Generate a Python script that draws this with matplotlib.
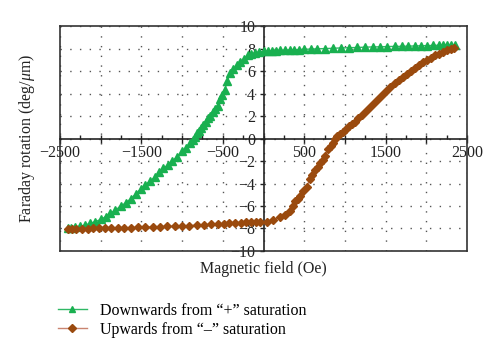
import matplotlib
matplotlib.use("Agg")
import matplotlib.pyplot as plt
from matplotlib.ticker import MultipleLocator, FuncFormatter

plt.rcParams['font.family'] = ['Liberation Serif', 'DejaVu Serif']
plt.rcParams['mathtext.fontset'] = 'custom'
plt.rcParams['mathtext.rm'] = 'Liberation Serif'
plt.rcParams['mathtext.it'] = 'Liberation Serif:italic'

# Downwards from "+" saturation
down_x = [2350, 2300, 2250, 2200, 2150, 2080, 2010, 1940, 1860, 1780, 1700, 1610,
          1520, 1430, 1340, 1250, 1150, 1050, 950, 850, 750, 660, 580, 500, 440,
          380, 320, 260, 200, 150, 100, 50, 0, -50, -100, -150, -190, -240, -290,
          -330, -370, -410, -445, -475, -505, -535, -565, -595, -625, -655, -680,
          -710, -740, -765, -790, -815, -840, -870, -900, -950, -1000, -1060,
          -1120, -1175, -1230, -1280, -1330, -1390, -1450, -1510, -1570, -1630,
          -1690, -1750, -1820, -1880, -1940, -2000, -2070, -2130, -2190, -2250,
          -2310, -2360, -2400]
down_y = [8.35, 8.35, 8.32, 8.3, 8.3, 8.28, 8.27, 8.25, 8.24, 8.22, 8.2, 8.2,
          8.18, 8.16, 8.15, 8.13, 8.1, 8.08, 8.06, 8.03, 8.0, 7.98, 7.96, 7.94, 7.92,
          7.9, 7.88, 7.86, 7.84, 7.82, 7.8, 7.78, 7.75, 7.7, 7.62, 7.52, 7.42, 7.1, 6.8,
          6.5, 6.15, 5.8, 5.1, 4.35, 3.9, 3.55, 2.9, 2.6, 2.35, 2.05, 1.8,
          1.5, 1.2, 0.95, 0.7, 0.45, 0.15, -0.15, -0.4, -0.8, -1.15, -1.6,
          -2.0, -2.35, -2.65, -3.0, -3.4, -3.75, -4.1, -4.5, -4.95, -5.35,
          -5.7, -6.0, -6.35, -6.65, -6.95, -7.2, -7.4, -7.55, -7.7, -7.8,
          -7.9, -7.97, -8.0]

# Upwards from "-" saturation
up_x = [-2400, -2350, -2300, -2230, -2160, -2090, -2020, -1950, -1870, -1790, -1710,
        -1630, -1540, -1450, -1360, -1270, -1180, -1090, -1000, -910, -820, -730,
        -640, -560, -490, -420, -350, -280, -210, -150, -90, -40, 40, 120, 200, 260,
        320, 360, 390, 420, 450, 490, 530, 570, 600, 635, 665, 695, 725, 755, 795,
        825, 850, 880, 905, 940, 975, 1010, 1045, 1085, 1125, 1165, 1210, 1260,
        1310, 1360, 1410, 1460, 1510, 1560, 1610, 1660, 1710, 1760, 1810, 1860,
        1910, 1960, 2010, 2060, 2110, 2160, 2210, 2260, 2300, 2340]
up_y = [-8.05, -8.05, -8.04, -8.03, -8.02, -8.0, -7.99, -7.98, -7.97, -7.95, -7.94,
        -7.92, -7.9, -7.88, -7.86, -7.84, -7.82, -7.8, -7.77, -7.74, -7.71, -7.68,
        -7.64, -7.6, -7.57, -7.54, -7.5, -7.47, -7.44, -7.42, -7.41, -7.4, -7.38,
        -7.24, -7.0, -6.8, -6.45, -6.0, -5.6, -5.35, -5.1, -4.7, -4.3, -3.6, -3.2,
        -2.8, -2.5, -2.2, -1.9, -1.56, -0.96, -0.65, -0.37, -0.05, 0.22, 0.4, 0.55,
        0.85, 1.1, 1.3, 1.5, 1.85, 2.1, 2.45, 2.8, 3.15, 3.5, 3.85, 4.2, 4.55, 4.9,
        5.2, 5.5, 5.75, 6.0, 6.3, 6.55, 6.8, 7.0, 7.2, 7.4, 7.55, 7.7, 7.85, 7.95, 8.05]

x_label_values = [-2500, -1500, -500, 500, 1500, 2500]

fig = plt.figure(figsize=(5.0, 3.58), dpi=100)
ax = fig.add_axes([0.12, 0.299, 0.814, 0.628])

green = '#19b050'
brown = '#9a4a0e'
l1, = ax.plot(down_x, down_y, color='#2fb865', lw=1.0, marker='^', ms=5.8,
              mfc=green, mec=green, zorder=3, clip_on=False,
              label='Downwards from \u201c+\u201d saturation')
l2, = ax.plot(up_x, up_y, color='#c98470', lw=1.0, marker='D', ms=4.3,
              mfc=brown, mec=brown, zorder=4, clip_on=False,
              label='Upwards from \u201c\u2013\u201d saturation')

ax.set_xlim(-2500, 2500)
ax.set_ylim(-10, 10)

ax.xaxis.set_major_locator(MultipleLocator(500))
ax.xaxis.set_minor_locator(MultipleLocator(250))
ax.yaxis.set_major_locator(MultipleLocator(2))


def xfmt(v, pos):
    iv = int(round(v))
    if iv in x_label_values:
        return '\u2212' + str(abs(iv)) if iv < 0 else str(iv)
    return ''


def yfmt(v, pos):
    iv = int(round(v))
    return '\u2212' + str(abs(iv)) if iv < 0 else str(iv)


ax.xaxis.set_major_formatter(FuncFormatter(xfmt))
ax.yaxis.set_major_formatter(FuncFormatter(yfmt))

ax.grid(True, which='major', color='#555555', lw=1.0, linestyle=(0, (1, 6)))
ax.set_axisbelow(True)

for s in ['left', 'bottom']:
    ax.spines[s].set_position(('data', 0))
    ax.spines[s].set_color('#222222')
    ax.spines[s].set_linewidth(1.2)
    ax.spines[s].set_zorder(2)
for s in ['top', 'right']:
    ax.spines[s].set_color('#333333')
    ax.spines[s].set_linewidth(1.2)
# remaining box edges
ax.plot([0, 0], [0, 1], transform=ax.transAxes, color='#333333', lw=1.2, clip_on=False)
ax.plot([0, 1], [0, 0], transform=ax.transAxes, color='#333333', lw=1.2, clip_on=False)

ax.tick_params(axis='x', which='major', direction='inout', length=6, width=1.0,
               pad=2, labelsize=11.5, colors='#222222')
ax.tick_params(axis='x', which='minor', direction='in', length=3, width=1.0,
               colors='#222222')
ax.tick_params(axis='y', which='major', direction='out', length=3, width=1.0,
               pad=3, labelsize=11.5, colors='#222222')

ax.text(0.5, -0.082, 'Magnetic field (Oe)', transform=ax.transAxes, ha='center',
        va='center', fontsize=11.5, color='#222222')
ax.text(-0.08, 0.5, r'Faraday rotation (deg/$\mathit{\mu}$m)', transform=ax.transAxes,
        ha='center', va='center', rotation=90, fontsize=11.5, color='#222222')

leg = fig.legend(handles=[l1, l2], loc='upper left', bbox_to_anchor=(0.116, 0.155),
                 frameon=False, fontsize=11.5, handlelength=1.8, handletextpad=0.8,
                 labelspacing=0.2, borderaxespad=0, borderpad=0)
for h in leg.legend_handles:
    h.set_markersize(4)

fig.savefig('out.png', dpi=100)
